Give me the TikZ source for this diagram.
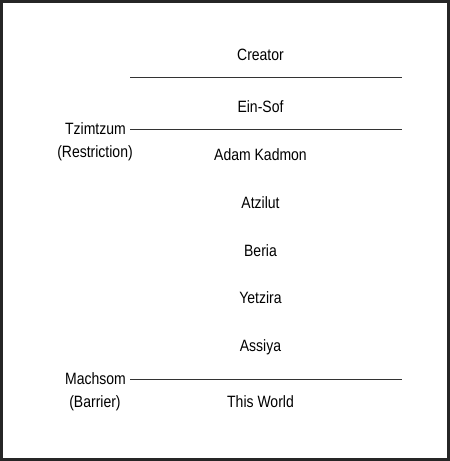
\documentclass[tikz,border=0pt]{standalone}
\usepackage{fontspec}
\setmainfont{Liberation Sans}
\newcommand{\alto}[1]{\scalebox{1}[1.17]{#1}}
\begin{document}
\begin{tikzpicture}[x=1pt,y=-1pt,
        mundo/.style={anchor=base,inner sep=0pt,font=\fontsize{14}{16}\selectfont},
        rotulo/.style={mundo,anchor=base east},
        divisa/.style={line width=0.9pt,black!80}]
        
        \useasboundingbox (0,0) rectangle (450,461);
        \draw[line width=3pt,black!85] (1.5,1.5) rectangle (448.5,459.5);
        
        % Mundos
        \node[mundo] (criador) at (260.5,60.3) {\alto{Creator}};
        \node[mundo] (einsof) at (260.5,112.3) {\alto{Ein-Sof}};
        \node[mundo] (adam) at (260.5,160.7) {\alto{Adam Kadmon}};
        \node[mundo] (atzilut) at (260.5,208.3) {\alto{Atzilut}};
        \node[mundo] (beria) at (260.5,256.3) {\alto{Beria}};
        \node[mundo] (yetzira) at (260.5,303.8) {\alto{Yetzira}};
        \node[mundo] (assiya) at (260.5,351.8) {\alto{Assiya}};
        \node[mundo] (mundo) at (260.5,407.8) {\alto{This World}};
        
        % Linhas divisorias
        \coordinate (l1a) at (130,77.3);
        \coordinate (l1b) at (402,77.3);
        \coordinate (l2a) at (130,129);
        \coordinate (l2b) at (402,129);
        \coordinate (l3a) at (130,379.3);
        \coordinate (l3b) at (402,379.3);
        \draw[divisa] (l1a) -- (l1b);
        \draw[divisa] (l2a) -- (l2b);
        \draw[divisa] (l3a) -- (l3b);
        
        % Rotulos
        \node[rotulo] (tzimtzum) at (126,134.2) {\alto{Tzimtzum}};
        \node[mundo] (restricao) at (95,157.5) {\alto{(Restriction)}};
        \node[rotulo] (machsom) at (126,384.8) {\alto{Machsom}};
        \node[mundo] (barreira) at (95,407.5) {\alto{(Barrier)}};
        
    \end{tikzpicture}
\end{document}
